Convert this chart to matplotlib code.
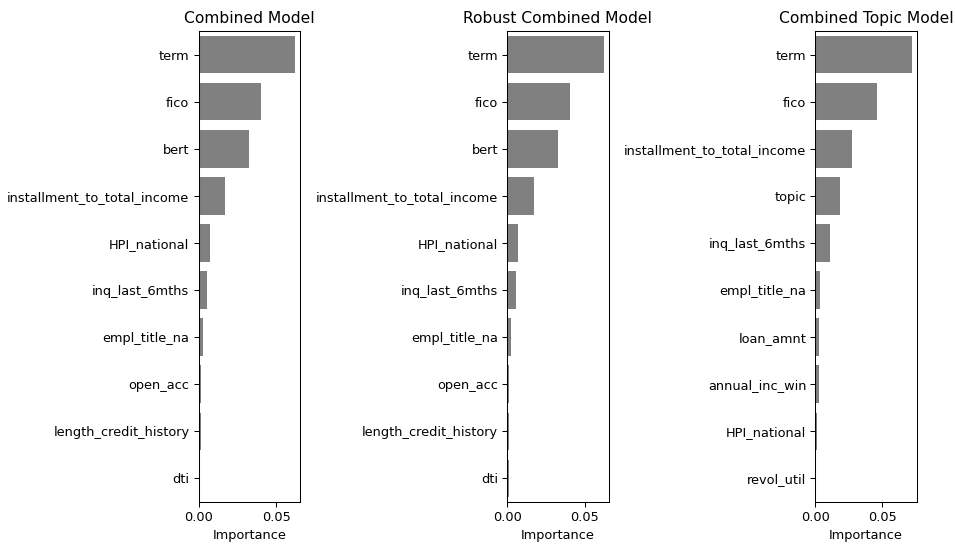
import matplotlib
matplotlib.use("Agg")
import matplotlib.pyplot as plt

titles = ["Combined Model", "Robust Combined Model", "Combined Topic Model"]

combined_features = ["term", "fico", "bert", "installment_to_total_income", "HPI_national",
                     "inq_last_6mths", "empl_title_na", "open_acc", "length_credit_history", "dti"]
combined_values = [0.0623, 0.0404, 0.0328, 0.0172, 0.0071, 0.0058, 0.0027, 0.0017, 0.0015, 0.0009]

robust_features = ["term", "fico", "bert", "installment_to_total_income", "HPI_national",
                   "inq_last_6mths", "empl_title_na", "open_acc", "length_credit_history", "dti"]
robust_values = [0.0623, 0.0403, 0.0326, 0.0170, 0.0068, 0.0054, 0.0025, 0.0014, 0.0012, 0.0008]

topic_features = ["term", "fico", "installment_to_total_income", "topic", "inq_last_6mths",
                  "empl_title_na", "loan_amnt", "annual_inc_win", "HPI_national", "revol_util"]
topic_values = [0.0722, 0.0465, 0.0278, 0.0185, 0.0107, 0.0038, 0.0025, 0.0025, 0.0013, 0.0008]

panels = [(combined_features, combined_values),
          (robust_features, robust_values),
          (topic_features, topic_values)]

W, H = 955, 544
DPI = 93
fig = plt.figure(figsize=(W / DPI, H / DPI), dpi=DPI)

# axes boxes in pixels: left, right, top, bottom
boxes = [(198.5, 300, 31, 502), (507.3, 608.5, 31, 502), (815.3, 916.7, 31, 502)]

for (feats, vals), title, (l, r, t, b) in zip(panels, titles, boxes):
    ax = fig.add_axes([l / W, 1 - b / H, (r - l) / W, (b - t) / H])
    pos = list(range(len(feats)))
    ax.barh(pos, vals, height=0.8, color="#808080")
    ax.set_yticks(pos)
    ax.set_yticklabels(feats, fontsize=10)
    ax.set_ylim(len(feats) - 0.5, -0.5)
    ax.set_xlim(0, max(vals) * 1.05)
    ax.set_xticks([0.0, 0.05])
    ax.set_xticklabels(["0.00", "0.05"], fontsize=10)
    ax.set_xlabel("Importance", fontsize=10)
    ax.set_title(title, fontsize=12)

fig.savefig("out.png", dpi=DPI)
